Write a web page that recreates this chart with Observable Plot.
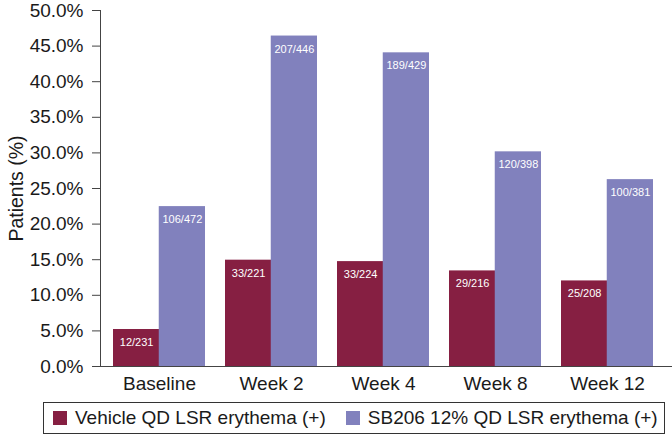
<!DOCTYPE html>
<html>
<head>
<meta charset="utf-8">
<script src="https://cdn.jsdelivr.net/npm/d3@7"></script>
<script src="https://cdn.jsdelivr.net/npm/@observablehq/plot@0.6"></script>
<style>
  body { margin: 0; background: #fff; font-family: "Liberation Sans", Arial, Helvetica, sans-serif; }
  #chart { width: 672px; height: 400px; }
  #chart g[aria-label="y-axis tick label"] { font-size: 19px; }
  #chart g[aria-label="x-axis tick label"] { font-size: 19px; }
  #chart g[aria-label="y-axis label"] { font-size: 19.5px; }
  .legend { position: absolute; left: 43px; top: 402px; width: 622px; height: 32px; border: 1px solid #333; box-sizing: border-box;
            display: flex; align-items: center; padding-left: 9px; gap: 20px; font-size: 19px; color: #1a1a1a; white-space: nowrap; }
  .legend .item { display: flex; align-items: center; }
  .legend span.sw { display: inline-block; width: 14px; height: 14px; margin-right: 8px; }
</style>
</head>
<body>
<div id="chart"></div>
<script>
const categories = ["Baseline", "Week 2", "Week 4", "Week 8", "Week 12"];
const seriesNames = ["Vehicle QD LSR erythema (+)", "SB206 12% QD LSR erythema (+)"];
const vehicleN = [12, 33, 33, 29, 25];
const vehicleTotal = [231, 221, 224, 216, 208];
const sbN = [106, 207, 189, 120, 100];
const sbTotal = [472, 446, 429, 398, 381];
const colors = ["#861f42", "#8181bd"];
const yTicks = [0, 5, 10, 15, 20, 25, 30, 35, 40, 45, 50];

const vehicle = categories.map((c, i) => ({cat: c, value: vehicleN[i] / vehicleTotal[i] * 100, label: `${vehicleN[i]}/${vehicleTotal[i]}`}));
const sb = categories.map((c, i) => ({cat: c, value: sbN[i] / sbTotal[i] * 100, label: `${sbN[i]}/${sbTotal[i]}`}));

const half = 45.75;
const plot = Plot.plot({
  width: 672,
  height: 400,
  marginLeft: 100,
  marginRight: 0,
  marginTop: 10,
  marginBottom: 34,
  style: {fontFamily: "'Liberation Sans', Arial, Helvetica, sans-serif", color: "#1a1a1a", background: "#fff"},
  x: {domain: categories, paddingInner: 0.183, paddingOuter: 0.145, align: 0.39, label: null},
  y: {domain: [0, 50], label: null},
  marks: [
    Plot.barY(vehicle, {x: "cat", y: "value", fill: colors[0], insetRight: half}),
    Plot.barY(sb, {x: "cat", y: "value", fill: colors[1], insetLeft: half}),
    Plot.text(vehicle, {x: "cat", y: "value", text: "label", dx: -half / 2, dy: 13, fill: "white", fontSize: 11}),
    Plot.text(sb, {x: "cat", y: "value", text: "label", dx: half / 2, dy: 13, fill: "white", fontSize: 11}),
    Plot.axisY({ticks: yTicks, tickFormat: d => d.toFixed(1) + "%", tickSize: 8, tickPadding: 9, stroke: "#444", fill: "#1a1a1a",
      label: "Patients (%)", labelAnchor: "center", labelArrow: "none", labelOffset: 91}),
    Plot.axisX({tickSize: 0, tickPadding: 10, fill: "#1a1a1a", label: null}),
    Plot.frame({anchor: "left", stroke: "#444"}),
    Plot.ruleY([0], {stroke: "#444"})
  ]
});
document.getElementById("chart").appendChild(plot);

const legend = document.createElement("div");
legend.className = "legend";
seriesNames.forEach((name, i) => {
  const item = document.createElement("div");
  item.className = "item";
  item.innerHTML = `<span class="sw" style="background:${colors[i]}"></span>${name}`;
  legend.appendChild(item);
});
document.body.appendChild(legend);
</script>
</body>
</html>
